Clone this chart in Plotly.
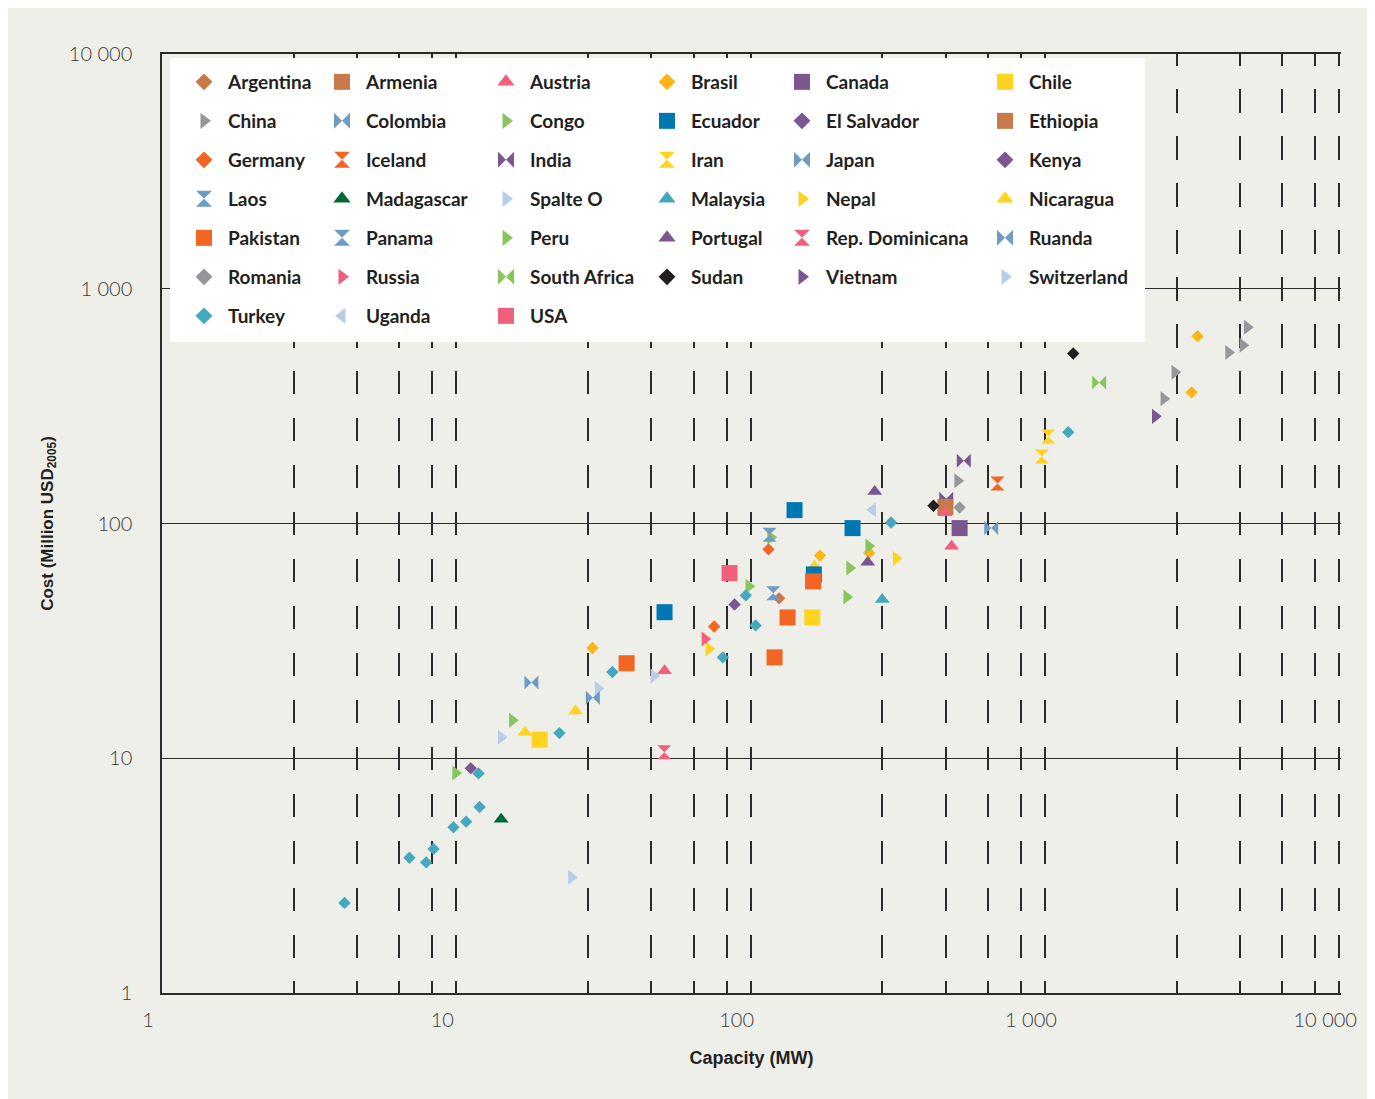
import plotly.graph_objects as go

# ---------------- data ----------------
countries = [
    "Argentina", "Armenia", "Austria", "Brasil", "Canada", "Chile",
    "China", "Colombia", "Congo", "Ecuador", "El Salvador", "Ethiopia",
    "Germany", "Iceland", "India", "Iran", "Japan", "Kenya",
    "Laos", "Madagascar", "Spalte O", "Malaysia", "Nepal", "Nicaragua",
    "Pakistan", "Panama", "Peru", "Portugal", "Rep. Dominicana", "Ruanda",
    "Romania", "Russia", "South Africa", "Sudan", "Vietnam", "Switzerland",
    "Turkey", "Uganda", "USA",
]
symbols = [
    "diamond", "square", "triangle-up", "diamond", "square", "square",
    "triangle-right", "bowtie", "triangle-right", "square", "diamond", "square",
    "diamond", "hourglass", "bowtie", "hourglass", "bowtie", "diamond",
    "hourglass", "triangle-up", "triangle-right", "triangle-up", "triangle-right", "triangle-up",
    "square", "hourglass", "triangle-right", "triangle-up", "hourglass", "bowtie",
    "diamond", "triangle-right", "bowtie", "diamond", "triangle-right", "triangle-right",
    "diamond", "triangle-left", "square",
]
colors = [
    "#c8794a", "#c87a4a", "#f0607b", "#fdb515", "#7b5690", "#ffd320",
    "#96979b", "#6f9cc4", "#85c75c", "#0077b3", "#7b5690", "#c87a4a",
    "#f26522", "#f26522", "#7b5690", "#ffd320", "#6f9cc4", "#7b5690",
    "#6f9cc4", "#006838", "#b8cde8", "#44a8be", "#ffd320", "#ffd320",
    "#f26522", "#6f9cc4", "#85c75c", "#7b5690", "#f0607b", "#6f9cc4",
    "#96979b", "#f0607b", "#85c75c", "#231f20", "#7b5690", "#b8cde8",
    "#44a8be", "#b8cde8", "#f0607b",
]

pt_country = (
    ["Argentina"]
    + ["Austria"] * 3
    + ["Brasil"] * 5
    + ["Canada"]
    + ["Chile"] * 2
    + ["China"] * 6
    + ["Colombia"]
    + ["Congo"] * 3
    + ["Ecuador"] * 4
    + ["El Salvador"]
    + ["Ethiopia"]
    + ["Germany"] * 2
    + ["Iceland"]
    + ["India"] * 2
    + ["Iran"] * 2
    + ["Japan"]
    + ["Kenya"]
    + ["Laos"]
    + ["Madagascar"]
    + ["Spalte O"]
    + ["Malaysia"]
    + ["Nepal"] * 2
    + ["Nicaragua"] * 3
    + ["Pakistan"] * 4
    + ["Panama"]
    + ["Peru"] * 4
    + ["Portugal"] * 2
    + ["Rep. Dominicana"]
    + ["Ruanda"]
    + ["Romania"]
    + ["Russia"]
    + ["South Africa"]
    + ["Sudan"] * 2
    + ["Vietnam"]
    + ["Switzerland"] * 3
    + ["Turkey"] * 15
    + ["Uganda"]
    + ["USA"]
)
pt_capacity = [
    125,
    51, 457, 482,
    29, 172, 253, 3150, 3300,
    513,
    19.2, 162,
    505, 2763, 2535, 4206, 4705, 4869,
    18.0,
    9.94, 98.6, 117,
    51, 141, 222, 164,
    88.2,
    459,
    115, 75.2,
    690,
    530, 462,
    1026, 976,
    657,
    11.2,
    116,
    14.2,
    30.3,
    280,
    72.1, 312,
    25.4, 17.1, 165,
    37.9, 133.5, 120.6, 163,
    119.4,
    15.5, 217, 212, 252,
    264, 250,
    50.9,
    29.1,
    513,
    69.9,
    1529,
    418, 1248,
    2371,
    24.6, 14.2, 46.9,
    4.17, 6.93, 7.90, 8.37, 9.78, 10.8, 12.0, 11.9, 22.4, 33.9, 80.5, 96.3, 104, 300, 1200,
    260,
    84.8,
]
pt_cost = [
    48,
    23.6, 111, 80,
    29.5, 73, 75, 362, 628,
    95.6,
    12.0, 39.8,
    152, 441, 340, 535, 574, 686,
    21.0,
    8.65, 54, 87.3,
    41.9, 114, 95.6, 60.7,
    45.2,
    117.5,
    77.6, 36.4,
    148,
    185, 127.5,
    235, 193,
    95.6,
    9.06,
    89.6,
    5.5,
    19.8,
    47.5,
    29.3, 71,
    15.9, 12.9, 65.7,
    25.4, 39.8, 26.9, 56.7,
    50.5,
    14.5, 64.6, 48.6, 80.1,
    137, 68.3,
    10.6,
    18.1,
    117,
    32.2,
    399,
    119, 530,
    286,
    3.11, 12.3, 22.4,
    2.42, 3.77, 3.60, 4.11, 5.08, 5.37, 6.20, 8.62, 12.8, 23.3, 26.9, 49.4, 36.8, 101, 245,
    114.5,
    61.5,
]

tick_vals = [1, 10, 100, 1000, 10000]
tick_text = ["1", "10", "100", "1 000", "10 000"]
grid_mult = [2.8, 4.6, 6.4, 8.3]

# ---------------- styling ----------------
W, H = 1362, 1091
OFF = 8  # page margin of the html body
ML, MT, PW, PH = 154, 46, 1179, 939
BG = "#efefe9"
LINE = "#2b2b2b"
DASH = "11.74px,23.48px,11.74px,0px"

data_size = {"diamond": 9.5, "square": 16, "triangle-up": 13, "triangle-right": 13,
             "triangle-left": 13, "bowtie": 14, "hourglass": 14}
legend_size = {"diamond": 13, "square": 16, "triangle-up": 15, "triangle-right": 14,
               "triangle-left": 14, "bowtie": 16, "hourglass": 16}


def pxx(px):
    return (px - OFF - ML) / PW


def pxy(py):
    return 1 - (py - OFF - MT) / PH


style = {c: (s, col) for c, s, col in zip(countries, symbols, colors)}

fig = go.Figure()

# legend entries (6 column legends)
for i, c in enumerate(countries):
    col = i % 6
    lg = "legend" if col == 0 else f"legend{col + 1}"
    s, colr = style[c]
    fig.add_trace(go.Scatter(
        x=[None], y=[None], mode="markers", name=c, legend=lg, legendgroup=c,
        marker=dict(symbol=s, color=colr, size=legend_size[s], line=dict(width=0)),
        hoverinfo="skip",
    ))

# data traces (drawing order)
draw_order = [c for c in countries if c not in ("Austria", "Nicaragua", "India", "Ecuador", "Pakistan")]
draw_order = ["India", "Nicaragua", "Ecuador", "Pakistan"] + draw_order + ["Austria"]
for c in draw_order:
    xs = [x for cc, x in zip(pt_country, pt_capacity) if cc == c]
    ys = [y for cc, y in zip(pt_country, pt_cost) if cc == c]
    if not xs:
        continue
    s, colr = style[c]
    fig.add_trace(go.Scatter(
        x=xs, y=ys, mode="markers", name=c, legendgroup=c, showlegend=False,
        marker=dict(symbol=s, color=colr, size=data_size[s], line=dict(width=0)),
    ))

minor_x = [m * 10 ** k for k in range(4) for m in grid_mult]

legend_font = dict(family="Lato, 'Open Sans', sans-serif", size=19, color="#231f20", weight="bold")
col_left = [180, 318, 482, 643, 778, 981]
legends = {}
for col in range(6):
    key = "legend" if col == 0 else f"legend{col + 1}"
    legends[key] = dict(
        x=pxx(col_left[col]), y=pxy(63), xanchor="left", yanchor="top",
        bgcolor="rgba(0,0,0,0)", borderwidth=0, font=legend_font,
        itemwidth=38, tracegroupgap=11.3, orientation="v",
    )

tick_font = dict(family="Lato, 'Open Sans', sans-serif", size=20, color="#3a3a3a", weight=300)
title_font = dict(family="'Liberation Sans', Arial, sans-serif", size=18, color="#231f20", weight="bold")

fig.update_layout(
    width=W, height=H,
    margin=dict(l=ML, r=W - ML - PW, t=MT, b=H - MT - PH, autoexpand=False),
    paper_bgcolor=BG, plot_bgcolor=BG,
    showlegend=True,
    xaxis=dict(
        type="log", range=[0, 4.006], tickvals=tick_vals, ticktext=tick_text,
        showgrid=True, gridcolor=LINE, gridwidth=1.6, griddash=DASH,
        minor=dict(tickvals=minor_x, showgrid=True, gridcolor=LINE, gridwidth=1.6, griddash=DASH, ticks=""),
        showline=True, linecolor=LINE, linewidth=1.5, mirror=True, ticks="",
        zeroline=False, tickfont=tick_font, ticklabelshift=-14, ticklabelstandoff=8,
        automargin=False,
        title=dict(text="Capacity (MW)", font=title_font, standoff=22),
    ),
    yaxis=dict(
        type="log", range=[0, 4], tickvals=tick_vals, ticktext=tick_text,
        showgrid=True, gridcolor=LINE, gridwidth=1.3,
        showline=True, linecolor=LINE, linewidth=1.5, ticks="",
        zeroline=False, tickfont=tick_font, ticklabelstandoff=24,
        automargin=False,
        title=dict(text="Cost (Million USD<sub>2005</sub>)", font=dict(title_font, size=17), standoff=11),
    ),
    shapes=[
        dict(type="rect", xref="paper", yref="paper", x0=pxx(170), x1=pxx(1145), y0=pxy(342), y1=pxy(58),
             fillcolor="#ffffff", line=dict(width=0), layer="above"),
    ],
    **legends,
)

fig.write_html("out.html")
